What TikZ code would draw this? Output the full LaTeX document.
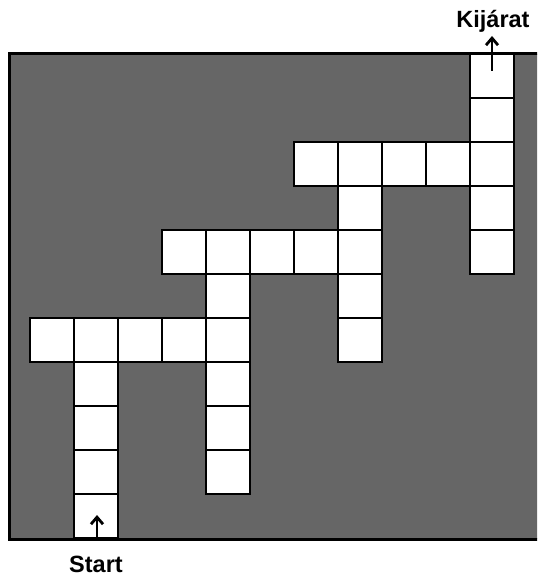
\documentclass[tikz,border=0pt]{standalone}
\usepackage{fontspec}
\setmainfont{Liberation Sans}
\usetikzlibrary{arrows.meta}
\definecolor{wallgray}{RGB}{102,102,102}
\begin{document}
\begin{tikzpicture}[x=1pt,y=-1pt,
  cell/.style={draw=black, fill=white, line width=2.5pt, minimum size=44pt, inner sep=0pt, outer sep=0pt, shape=rectangle},
  lbl/.style={font=\bfseries\fontsize{23.5}{26}\selectfont, inner sep=0pt},
  arr/.style={line width=2.5pt, -{Straight Barb[length=7pt,width=12pt,line width=2.8pt]}}]
\useasboundingbox (0,0) rectangle (537,577);
\begin{scope}
  \clip (0,0) rectangle (537,577);
  \draw[line width=3pt, fill=wallgray] (9,54) rectangle (548,539);
\end{scope}
% cells
\foreach \r in {0,...,4} {\node[cell] (a\r) at (52+44*10, 76+44*\r) {};}
\foreach \c in {6,...,9} {\node[cell] (b\c) at (52+44*\c, 76+44*2) {};}
\foreach \r in {3,...,6} {\node[cell] (d\r) at (52+44*7, 76+44*\r) {};}
\foreach \c in {3,...,6} {\node[cell] (e\c) at (52+44*\c, 76+44*4) {};}
\foreach \r in {5,...,9} {\node[cell] (f\r) at (52+44*4, 76+44*\r) {};}
\foreach \c in {0,...,3} {\node[cell] (g\c) at (52+44*\c, 76+44*6) {};}
\foreach \r in {7,...,10} {\node[cell] (h\r) at (52+44*1, 76+44*\r) {};}
% labels and arrows
\node[lbl] (start) at (96,564) {Start};
\node[lbl] (exit) at (493,21) {Kijárat};
\coordinate (startbase) at (97,539);
\coordinate (starttip) at (97,515);
\coordinate (exitbase) at (492,71);
\coordinate (exittip) at (492,36);
\draw[arr] (startbase) -- (starttip);
\draw[arr] (exitbase) -- (exittip);
\end{tikzpicture}
\end{document}
